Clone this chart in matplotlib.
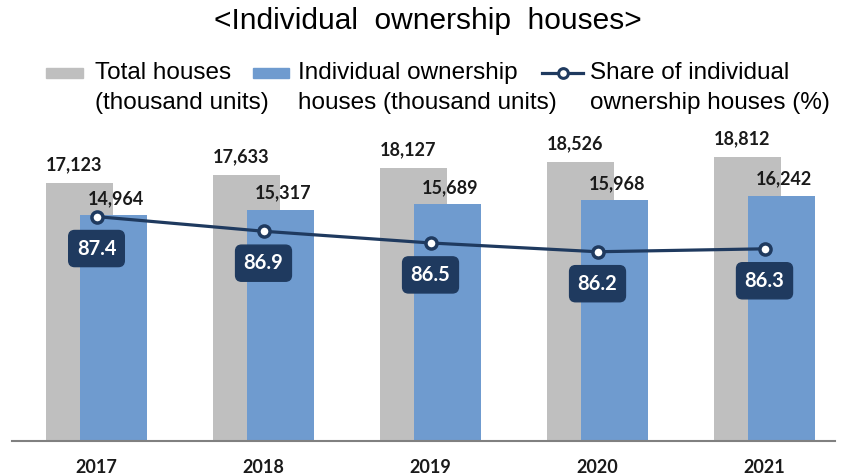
import matplotlib
matplotlib.use("Agg")
import matplotlib.pyplot as plt
from matplotlib.patches import Rectangle
from matplotlib.lines import Line2D
import numpy as np

years = ["2017", "2018", "2019", "2020", "2021"]
total_houses = [17123, 17633, 18127, 18526, 18812]
individual_houses = [14964, 15317, 15689, 15968, 16242]
share_pct = [87.4, 86.9, 86.5, 86.2, 86.3]

GRAY = "#BFBFBF"
BLUE = "#6F9BCF"
NAVY = "#1F3A5F"

W, H = 841, 476
fig = plt.figure(figsize=(W / 100, H / 100), dpi=100)

ax_left, ax_right, ax_top, ax_bot = 12, 835, 100, 441
ax = fig.add_axes([ax_left / W, (H - ax_bot) / H, (ax_right - ax_left) / W, (ax_bot - ax_top) / H])

x = np.arange(len(years))
bw = 0.401
off = 0.102
ax.bar(x - off, total_houses, width=bw, color=GRAY, zorder=1)
ax.bar(x + off, individual_houses, width=bw, color=BLUE, zorder=2)

ax.set_xlim(-0.506, 4.422)
ax.set_ylim(0, 341 / 0.01508)

for i in range(len(years)):
    ax.annotate(f"{total_houses[i]:,}", (x[i] - off, total_houses[i]), xytext=(-4, 7),
                textcoords="offset points", ha="center", va="bottom",
                fontsize=13, fontweight="bold", family="Lato", color="#1a1a1a")
    ax.annotate(f"{individual_houses[i]:,}", (x[i] + off, individual_houses[i]), xytext=(2, 6),
                textcoords="offset points", ha="center", va="bottom",
                fontsize=13, fontweight="bold", family="Lato", color="#1a1a1a")

for s in ["top", "right", "left"]:
    ax.spines[s].set_visible(False)
ax.spines["bottom"].set_color("#808080")
ax.spines["bottom"].set_linewidth(1.5)
ax.set_yticks([])
ax.set_xticks(x)
ax.set_xticklabels(years, fontsize=13, fontweight="bold", family="Lato", color="#1a1a1a")
ax.tick_params(axis="x", length=0, pad=13)

ax2 = ax.twinx()
ax2.set_ylim(79.74, 91.38)
ax2.set_yticks([])
for s in ["top", "right", "left", "bottom"]:
    ax2.spines[s].set_visible(False)
ax2.plot(x, share_pct, color=NAVY, lw=2.3, marker="o", ms=8, mfc="white", mec=NAVY, mew=2.5, zorder=5)
for i in range(len(years)):
    ax2.annotate(f"{share_pct[i]:.1f}", (x[i], share_pct[i]), xytext=(0, -23),
                 textcoords="offset points", ha="center", va="center",
                 fontsize=14.5, fontweight="bold", family="Lato", color="white",
                 bbox=dict(boxstyle="round,pad=0.4,rounding_size=0.3", fc=NAVY, ec=NAVY))

# Title
fig.text(428 / W, 1 - 21 / H, "<Individual  ownership  houses>", ha="center", va="center",
         fontsize=21.5, family="Liberation Sans", color="black")

# Legend (manual)
def fy(py):
    return 1 - py / H

fig.add_artist(Rectangle((46 / W, fy(78)), 37 / W, 10 / H, transform=fig.transFigure, color=GRAY))
fig.add_artist(Rectangle((253 / W, fy(78)), 36 / W, 10 / H, transform=fig.transFigure, color=BLUE))
fig.add_artist(Line2D([542 / W, 583 / W], [fy(73), fy(73)], transform=fig.transFigure,
                      color=NAVY, lw=2.3))
fig.add_artist(Line2D([562.5 / W], [fy(73)], transform=fig.transFigure, color=NAVY,
                      marker="o", ms=7, mfc="white", mec=NAVY, mew=2.2))
leg_fs = 17.5
for px, l1, l2 in [(95, "Total houses", "(thousand units)"),
                   (298, "Individual ownership", "houses (thousand units)"),
                   (590, "Share of individual", "ownership houses (%)")]:
    fig.text(px / W, fy(73), l1, ha="left", va="center", fontsize=leg_fs, family="Liberation Sans")
    fig.text(px / W, fy(103), l2, ha="left", va="center", fontsize=leg_fs, family="Liberation Sans")

fig.savefig("out.png", dpi=100)
